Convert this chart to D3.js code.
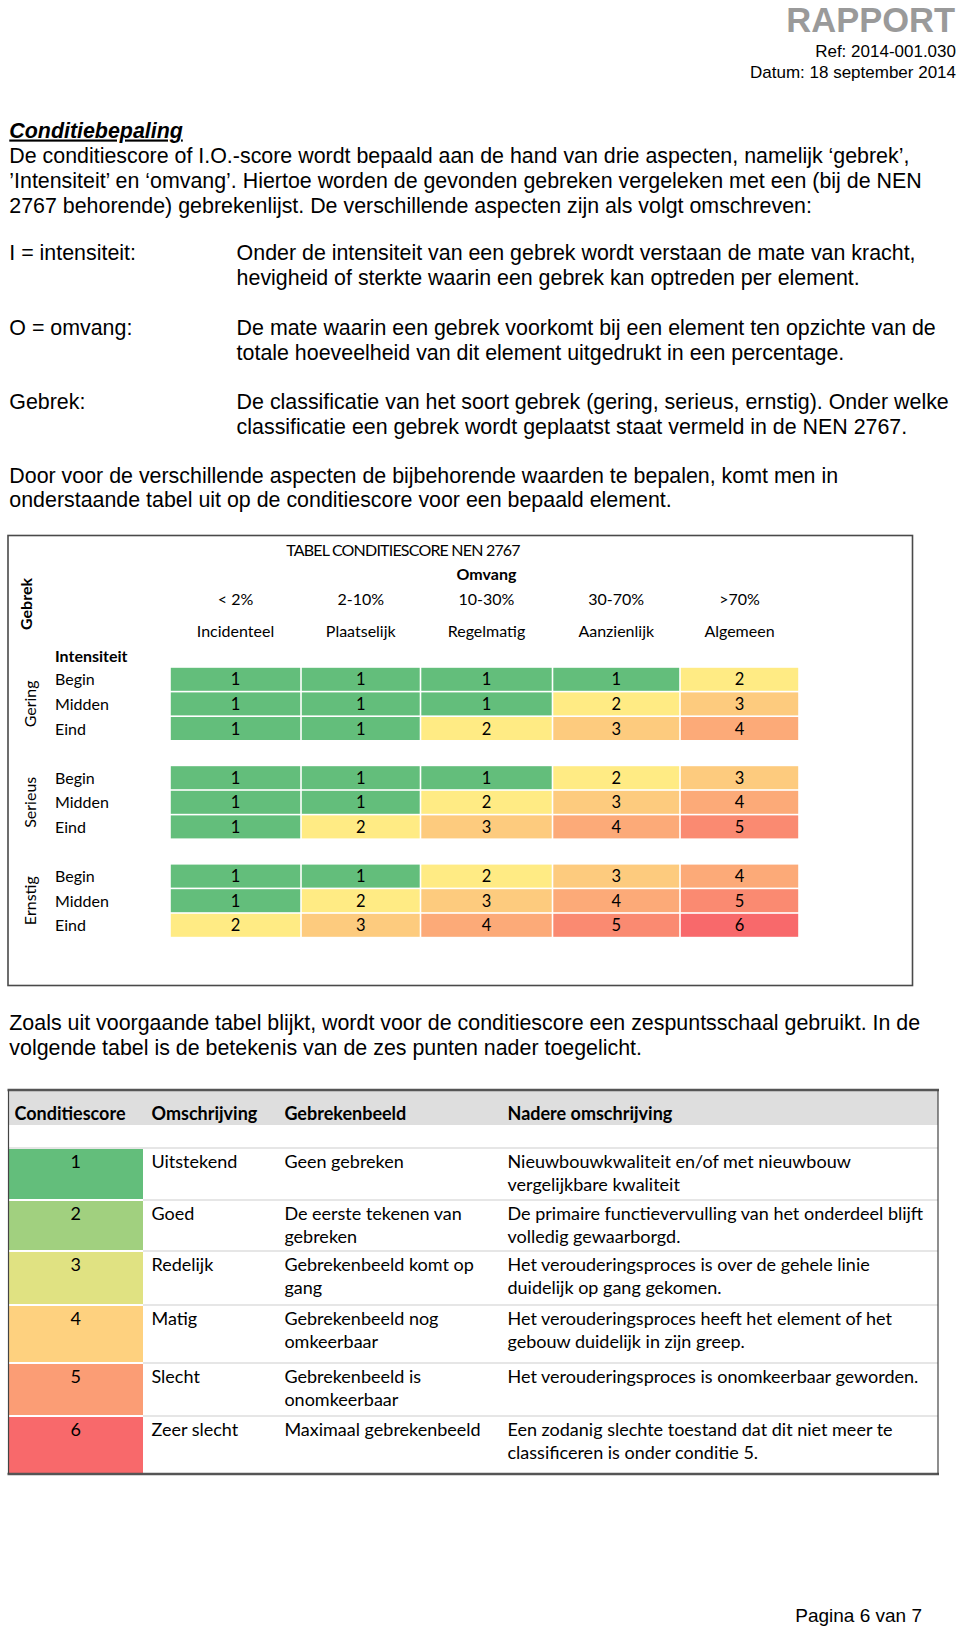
<!DOCTYPE html>
<html><head><meta charset="utf-8">
<script src="https://cdn.jsdelivr.net/npm/d3@7"></script>
<style>body{margin:0;background:#fff}svg{display:block}</style>
</head><body><svg id="c" width="960" height="1628"></svg>
<script>
// ---------- data ----------
const headerTitle = "RAPPORT";
const headerRef = "Ref: 2014-001.030";
const headerDate = "Datum: 18 september 2014";
const sectionTitle = "Conditiebepaling";
const introLines = [
  "De conditiescore of I.O.-score wordt bepaald aan de hand van drie aspecten, namelijk ‘gebrek’,",
  "’Intensiteit’ en ‘omvang’. Hiertoe worden de gevonden gebreken vergeleken met een (bij de NEN",
  "2767 behorende) gebrekenlijst. De verschillende aspecten zijn als volgt omschreven:"
];
const defTerms = ["I = intensiteit:", "O = omvang:", "Gebrek:"];
const defTexts = [
  ["Onder de intensiteit van een gebrek wordt verstaan de mate van kracht,",
   "hevigheid of sterkte waarin een gebrek kan optreden per element."],
  ["De mate waarin een gebrek voorkomt bij een element ten opzichte van de",
   "totale hoeveelheid van dit element uitgedrukt in een percentage."],
  ["De classificatie van het soort gebrek (gering, serieus, ernstig). Onder welke",
   "classificatie een gebrek wordt geplaatst staat vermeld in de NEN 2767."]
];
const doorLines = [
  "Door voor de verschillende aspecten de bijbehorende waarden te bepalen, komt men in",
  "onderstaande tabel uit op de conditiescore voor een bepaald element."
];
const zoalsLines = [
  "Zoals uit voorgaande tabel blijkt, wordt voor de conditiescore een zespuntsschaal gebruikt. In de",
  "volgende tabel is de betekenis van de zes punten nader toegelicht."
];
const footerText = "Pagina 6 van 7";

// table 1
const table1Title = "TABEL CONDITIESCORE NEN 2767";
const omvangLabel = "Omvang";
const gebrekLabel = "Gebrek";
const intensiteitLabel = "Intensiteit";
const omvangPct = ["< 2%", "2-10%", "10-30%", "30-70%", ">70%"];
const omvangNames = ["Incidenteel", "Plaatselijk", "Regelmatig", "Aanzienlijk", "Algemeen"];
const gebrekGroups = ["Gering", "Serieus", "Ernstig"];
const intensiteit = ["Begin", "Midden", "Eind"];
const scoreGering  = [[1,1,1,1,2],[1,1,1,2,3],[1,1,2,3,4]];
const scoreSerieus = [[1,1,1,2,3],[1,1,2,3,4],[1,2,3,4,5]];
const scoreErnstig = [[1,1,2,3,4],[1,2,3,4,5],[2,3,4,5,6]];

// table 2
const table2Headers = ["Conditiescore", "Omschrijving", "Gebrekenbeeld", "Nadere omschrijving"];
const conditieScores = [1, 2, 3, 4, 5, 6];
const omschrijving = ["Uitstekend", "Goed", "Redelijk", "Matig", "Slecht", "Zeer slecht"];
const gebrekenbeeld = [
  ["Geen gebreken"],
  ["De eerste tekenen van", "gebreken"],
  ["Gebrekenbeeld komt op", "gang"],
  ["Gebrekenbeeld nog", "omkeerbaar"],
  ["Gebrekenbeeld is", "onomkeerbaar"],
  ["Maximaal gebrekenbeeld"]
];
const nadere = [
  ["Nieuwbouwkwaliteit en/of met nieuwbouw", "vergelijkbare kwaliteit"],
  ["De primaire functievervulling van het onderdeel blijft", "volledig gewaarborgd."],
  ["Het verouderingsproces is over de gehele linie", "duidelijk op gang gekomen."],
  ["Het verouderingsproces heeft het element of het", "gebouw duidelijk in zijn greep."],
  ["Het verouderingsproces is onomkeerbaar geworden."],
  ["Een zodanig slechte toestand dat dit niet meer te", "classificeren is onder conditie 5."]
];

// ---------- drawing ----------
const svg = d3.select("#c");
const ARIAL = "'Liberation Sans', Arial, sans-serif";
const CAL = "Lato, 'Open Sans', sans-serif";
const bodySize = 21.4, lineH = 24.9;

function lines(g, arr, x, y0) {
  g.selectAll(null).data(arr).join("text")
    .attr("x", x).attr("y", (d, i) => y0 + i * lineH)
    .attr("font-family", ARIAL).attr("font-size", bodySize).attr("fill", "#000")
    .text(d => d);
}

// header
svg.append("text").attr("x", 955).attr("y", 31.5).attr("text-anchor", "end")
  .attr("font-family", ARIAL).attr("font-weight", "bold").attr("font-size", 34.5)
  .attr("fill", "#9a9a9a").text(headerTitle);
svg.append("text").attr("x", 956).attr("y", 57).attr("text-anchor", "end")
  .attr("font-family", ARIAL).attr("font-size", 17).text(headerRef);
svg.append("text").attr("x", 956).attr("y", 78).attr("text-anchor", "end")
  .attr("font-family", ARIAL).attr("font-size", 17).text(headerDate);

// section
svg.append("text").attr("x", 9.3).attr("y", 137.5)
  .attr("font-family", ARIAL).attr("font-size", bodySize).attr("font-weight", "bold")
  .attr("font-style", "italic").attr("text-decoration", "underline").text(sectionTitle);
const body = svg.append("g");
lines(body, introLines, 9.3, 163);
const defY = [260, 335, 409];
defTerms.forEach((t, i) => {
  lines(body, [t], 9.3, defY[i]);
  lines(body, defTexts[i], 236.6, defY[i]);
});
lines(body, doorLines, 9.3, 482.5);
lines(body, zoalsLines, 9.3, 1030);

// footer
svg.append("text").attr("x", 922).attr("y", 1622).attr("text-anchor", "end")
  .attr("font-family", ARIAL).attr("font-size", 19).text(footerText);

// ---------- table 1 ----------
const t1 = svg.append("g");
const t1Size = 16;
t1.append("rect").attr("x", 8).attr("y", 535.5).attr("width", 904.5).attr("height", 450)
  .attr("fill", "none").attr("stroke", "#4a4a4a").attr("stroke-width", 1.6);

const x1 = d3.scaleLinear().domain([0, 1, 2, 3, 4, 5]).range([170, 301, 420.5, 552.5, 680, 799]);
const y1 = d3.scaleBand().domain(d3.range(11)).range([667, 937.6]);
const color1 = d3.scaleLinear().domain([1, 2, 6]).range(["#63be7b", "#ffeb84", "#f8696b"]);
const groupScores = [scoreGering, scoreSerieus, scoreErnstig];

function t1text(sel) {
  return sel.attr("font-family", CAL).attr("font-size", t1Size).attr("fill", "#000");
}
t1text(t1.append("text")).attr("x", 403).attr("y", 556).attr("text-anchor", "middle")
  .attr("letter-spacing", -0.8).text(table1Title);
t1text(t1.append("text")).attr("x", x1(2.5)).attr("y", 580).attr("text-anchor", "middle")
  .attr("font-weight", "bold").text(omvangLabel);
t1text(t1.selectAll(null).data(omvangPct).join("text"))
  .attr("x", (d, i) => (x1(i) + x1(i + 1)) / 2).attr("y", 604.5).attr("text-anchor", "middle").text(d => d);
t1text(t1.selectAll(null).data(omvangNames).join("text"))
  .attr("x", (d, i) => (x1(i) + x1(i + 1)) / 2).attr("y", 636.5).attr("text-anchor", "middle").text(d => d);
t1text(t1.append("text")).attr("x", 55).attr("y", 661.5).attr("font-weight", "bold").text(intensiteitLabel);
t1text(t1.append("text")).attr("transform", "translate(31.5,604) rotate(-90)")
  .attr("text-anchor", "middle").attr("font-weight", "bold").text(gebrekLabel);

const cellData = [];
groupScores.forEach((m, g) => m.forEach((row, r) => row.forEach((v, c) => cellData.push({ g, r, c, v }))));

gebrekGroups.forEach((name, g) => {
  const yc = (y1(g * 4) + y1(g * 4 + 2) + y1.bandwidth()) / 2;
  t1text(t1.append("text")).attr("transform", `translate(36,${yc}) rotate(-90)`)
    .attr("text-anchor", "middle").text(name);
  t1text(t1.selectAll(null).data(intensiteit).join("text"))
    .attr("x", 55).attr("y", (d, r) => y1(g * 4 + r) + y1.bandwidth() / 2 + 6).text(d => d);
});

t1.selectAll("rect.cell").data(cellData).join("rect").attr("class", "cell")
  .attr("x", d => x1(d.c) + 0.8).attr("width", d => x1(d.c + 1) - x1(d.c) - 1.6)
  .attr("y", d => y1(d.g * 4 + d.r) + 0.8).attr("height", y1.bandwidth() - 1.6)
  .attr("fill", d => color1(d.v));
t1.selectAll("text.num").data(cellData).join("text").attr("class", "num")
  .attr("font-family", CAL).attr("font-size", 16.5).attr("fill", "#000")
  .attr("x", d => (x1(d.c) + x1(d.c + 1)) / 2)
  .attr("y", d => y1(d.g * 4 + d.r) + y1.bandwidth() / 2 + 6)
  .attr("text-anchor", "middle").text(d => d.v);

// ---------- table 2 ----------
const t2 = svg.append("g");
const t2Size = 18;
const T2L = 8.5, T2R = 938;
const y2 = d3.scaleLinear().domain(d3.range(7)).range([1148, 1200, 1251, 1305, 1363, 1416, 1474]);
const color2 = d3.scaleLinear().domain([1, 3.5, 6]).range(["#63be7b", "#ffeb84", "#f8696b"]);
const colX = [14.5, 151.5, 284.4, 507.5];
const colorColR = 143;

t2.append("rect").attr("x", T2L).attr("y", 1090).attr("width", T2R - T2L).attr("height", 35)
  .attr("fill", "#dedede");
t2.selectAll(null).data(table2Headers).join("text")
  .attr("x", (d, i) => colX[i]).attr("y", 1119.5)
  .attr("font-family", CAL).attr("font-size", t2Size).attr("font-weight", "bold").text(d => d);

t2.selectAll("rect.sw").data(conditieScores).join("rect").attr("class", "sw")
  .attr("x", T2L).attr("width", colorColR - T2L)
  .attr("y", (d, i) => y2(i)).attr("height", (d, i) => y2(i + 1) - y2(i))
  .attr("fill", d => color2(d));
// row separators
t2.selectAll("line.sep").data(d3.range(0, 6)).join("line").attr("class", "sep")
  .attr("x1", T2L).attr("x2", T2R).attr("y1", i => y2(i)).attr("y2", i => y2(i))
  .attr("stroke", "#e6e6e6").attr("stroke-width", 2);
t2.selectAll("line.sepw").data(d3.range(1, 6)).join("line").attr("class", "sepw")
  .attr("x1", T2L).attr("x2", colorColR).attr("y1", i => y2(i)).attr("y2", i => y2(i))
  .attr("stroke", "#ffffff").attr("stroke-width", 2);

function t2cell(col, arr) {
  arr.forEach((ls, i) => {
    t2.selectAll(null).data(ls).join("text")
      .attr("x", colX[col]).attr("y", (d, k) => y2(i) + 19.5 + k * 23.5)
      .attr("font-family", CAL).attr("font-size", t2Size).text(d => d);
  });
}
t2.selectAll("text.sc").data(conditieScores).join("text").attr("class", "sc")
  .attr("x", (T2L + colorColR) / 2).attr("y", (d, i) => y2(i) + 19.5).attr("text-anchor", "middle")
  .attr("font-family", CAL).attr("font-size", t2Size).text(d => d);
t2cell(1, omschrijving.map(d => [d]));
t2cell(2, gebrekenbeeld);
t2cell(3, nadere);

// borders
t2.append("line").attr("x1", T2L - 1).attr("x2", T2R + 1).attr("y1", 1090).attr("y2", 1090)
  .attr("stroke", "#555").attr("stroke-width", 2.5);
t2.append("line").attr("x1", T2L - 1).attr("x2", T2R + 1).attr("y1", 1474).attr("y2", 1474)
  .attr("stroke", "#555").attr("stroke-width", 2.5);
t2.append("line").attr("x1", T2L).attr("x2", T2L).attr("y1", 1090).attr("y2", 1474)
  .attr("stroke", "#444").attr("stroke-width", 1.2);
t2.append("line").attr("x1", T2R).attr("x2", T2R).attr("y1", 1090).attr("y2", 1474)
  .attr("stroke", "#444").attr("stroke-width", 1.2);
</script></body></html>
